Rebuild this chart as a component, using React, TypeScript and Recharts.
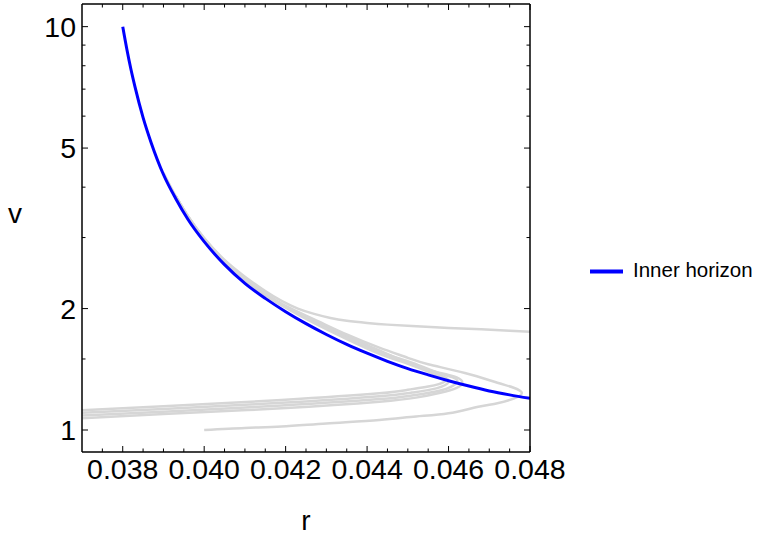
import React from "react";
import { LineChart, Line, XAxis, YAxis, Legend } from "recharts";

const FONT = "'Liberation Sans', Arial, sans-serif";

// tick values
const xMajorTicks = [0.038, 0.04, 0.042, 0.044, 0.046, 0.048];
const xMinorTicks = [
  0.0375, 0.0385, 0.039, 0.0395, 0.0405, 0.041, 0.0415, 0.0425, 0.043, 0.0435,
  0.0445, 0.045, 0.0455, 0.0465, 0.047, 0.0475,
];
const yMajorTicks = [1, 2, 5, 10];
const yMinorTicks = [1.5, 3, 4, 6, 7, 8, 9];

// inner horizon (blue)
const innerR = [
  0.038, 0.0381, 0.0382, 0.0383, 0.0385, 0.0387, 0.039, 0.0393, 0.0396, 0.04,
  0.0405, 0.041, 0.0415, 0.042, 0.0425, 0.043, 0.0435, 0.044, 0.0445, 0.045,
  0.0455, 0.046, 0.0465, 0.047, 0.0475, 0.048,
];
const innerV = [
  10.0, 8.8, 7.85, 7.1, 5.95, 5.15, 4.3, 3.75, 3.33, 2.93, 2.57, 2.31, 2.12,
  1.965, 1.835, 1.725, 1.63, 1.55, 1.48, 1.42, 1.37, 1.325, 1.285, 1.25, 1.222,
  1.198,
];

// gray trajectories
const grayAR = [
  0.039, 0.0393, 0.0396, 0.04, 0.0405, 0.041, 0.0415, 0.0419, 0.0423, 0.0427,
  0.0431, 0.0435, 0.044, 0.0445, 0.0451, 0.046, 0.0468, 0.0475, 0.048,
];
const grayAV = [
  4.34, 3.8, 3.39, 2.99, 2.64, 2.4, 2.21, 2.09, 2.0, 1.94, 1.895, 1.866, 1.843,
  1.825, 1.81, 1.79, 1.777, 1.763, 1.753,
];

const grayB1R = [
  0.037, 0.039, 0.0419, 0.0443, 0.045, 0.0455, 0.0459, 0.0458, 0.0455, 0.045,
  0.0443, 0.0435, 0.0427, 0.042, 0.0415, 0.041, 0.0405, 0.04, 0.0396, 0.0393,
];
const grayB1V = [
  1.12, 1.145, 1.187, 1.233, 1.258, 1.282, 1.318, 1.35, 1.395, 1.46, 1.545,
  1.68, 1.84, 2.01, 2.16, 2.35, 2.61, 2.97, 3.38, 3.8,
];

const grayB2R = [
  0.037, 0.039, 0.0419, 0.0443, 0.0451, 0.0457, 0.046, 0.0459, 0.0456, 0.045,
  0.0443, 0.0435, 0.0427, 0.042, 0.0415, 0.041, 0.0405, 0.04, 0.0396, 0.0393,
];
const grayB2V = [
  1.103, 1.128, 1.168, 1.213, 1.238, 1.268, 1.315, 1.352, 1.392, 1.468, 1.555,
  1.69, 1.85, 2.015, 2.165, 2.355, 2.61, 2.97, 3.38, 3.8,
];

const grayB3R = [
  0.037, 0.039, 0.0419, 0.0443, 0.0451, 0.0458, 0.0462, 0.0461, 0.0457, 0.0451,
  0.0443, 0.0435, 0.0427, 0.042, 0.0415, 0.041, 0.0405, 0.04, 0.0396, 0.0393,
];
const grayB3V = [
  1.087, 1.11, 1.15, 1.193, 1.218, 1.253, 1.31, 1.35, 1.392, 1.468, 1.565,
  1.7, 1.86, 2.02, 2.17, 2.36, 2.615, 2.975, 3.385, 3.8,
];

const grayB4R = [
  0.037, 0.039, 0.0419, 0.0443, 0.0452, 0.0458, 0.0462, 0.04634, 0.0462,
  0.0458, 0.0452, 0.0443, 0.0435, 0.0427, 0.042, 0.0415, 0.041, 0.0405, 0.04,
  0.0396, 0.0393,
];
const grayB4V = [
  1.07, 1.095, 1.132, 1.175, 1.203, 1.237, 1.272, 1.31, 1.35, 1.385, 1.44,
  1.575, 1.71, 1.87, 2.025, 2.175, 2.365, 2.62, 2.98, 3.39, 3.8,
];

const grayCR = [
  0.04, 0.041, 0.0419, 0.043, 0.0443, 0.0452, 0.046, 0.0467, 0.0472, 0.0476,
  0.0478, 0.0476, 0.0472, 0.0464, 0.0455, 0.045, 0.0443, 0.0435, 0.0427, 0.042,
  0.0415, 0.041, 0.0405, 0.04, 0.0396, 0.0393,
];
const grayCV = [
  1.0, 1.012, 1.02, 1.038, 1.059, 1.08, 1.1, 1.14, 1.165, 1.197, 1.235, 1.273,
  1.31, 1.385, 1.455, 1.51, 1.6, 1.725, 1.88, 2.03, 2.18, 2.37, 2.625, 2.985,
  3.39, 3.8,
];

const toPoints = (rs: number[], vs: number[]) => rs.map((r, i) => ({ r, v: vs[i] }));

const innerData = toPoints(innerR, innerV);
const grayData = [
  toPoints(grayAR, grayAV),
  toPoints(grayB1R, grayB1V),
  toPoints(grayB2R, grayB2V),
  toPoints(grayB3R, grayB3V),
  toPoints(grayB4R, grayB4V),
  toPoints(grayCR, grayCV),
];

const xTicks = [...xMajorTicks, ...xMinorTicks].sort((a, b) => a - b);
const yTicks = [...yMajorTicks, ...yMinorTicks].sort((a, b) => a - b);

const isMajor = (list: number[], v: number) => list.some((t) => Math.abs(t - v) < 1e-9);

const MAJOR = 6;
const MINOR = 3.5;
const TICK_FONT = 28.5;

function BottomTick(props: any) {
  const { x, y, payload } = props;
  const major = isMajor(xMajorTicks, payload.value);
  return (
    <g>
      <line x1={x} x2={x} y1={y} y2={y - (major ? MAJOR : MINOR)} stroke="#000" strokeWidth={1} />
      {major && (
        <text x={x} y={y + 27} textAnchor="middle" fontSize={TICK_FONT} fontFamily={FONT} fill="#000">
          {payload.value.toFixed(3)}
        </text>
      )}
    </g>
  );
}

function TopTick(props: any) {
  const { x, y, payload } = props;
  const major = isMajor(xMajorTicks, payload.value);
  return <line x1={x} x2={x} y1={y} y2={y + (major ? MAJOR : MINOR)} stroke="#000" strokeWidth={1} />;
}

function LeftTick(props: any) {
  const { x, y, payload } = props;
  const major = isMajor(yMajorTicks, payload.value);
  return (
    <g>
      <line x1={x} x2={x + (major ? MAJOR : MINOR)} y1={y} y2={y} stroke="#000" strokeWidth={1} />
      {major && (
        <text x={x - 6} y={y + 10} textAnchor="end" fontSize={TICK_FONT} fontFamily={FONT} fill="#000">
          {payload.value}
        </text>
      )}
    </g>
  );
}

function RightTick(props: any) {
  const { x, y, payload } = props;
  const major = isMajor(yMajorTicks, payload.value);
  return <line x1={x} x2={x - (major ? MAJOR : MINOR)} y1={y} y2={y} stroke="#000" strokeWidth={1} />;
}

const frame = { stroke: "#000", strokeWidth: 1.5 };

export default function App() {
  return (
    <div style={{ position: "absolute", left: 0, top: 0, fontFamily: FONT }}>
      <LineChart width={764} height={541} margin={{ top: 3, right: 233, bottom: 0, left: 0 }}>
        <XAxis
          xAxisId="b"
          dataKey="r"
          type="number"
          domain={[0.037, 0.048]}
          allowDataOverflow
          ticks={xTicks}
          interval={0}
          tickSize={0}
          tickMargin={0}
          tickLine={false}
          tick={<BottomTick />}
          height={89}
          axisLine={frame}
          label={{ value: "r", position: "insideBottom", offset: 11, fontSize: 28, fill: "#000" }}
        />
        <XAxis
          xAxisId="t"
          orientation="top"
          dataKey="r"
          type="number"
          domain={[0.037, 0.048]}
          allowDataOverflow
          ticks={xTicks}
          interval={0}
          tickSize={0}
          tickMargin={0}
          tickLine={false}
          tick={<TopTick />}
          height={1}
          axisLine={frame}
        />
        <YAxis
          yAxisId="l"
          type="number"
          scale="log"
          domain={[0.882, 11.38]}
          allowDataOverflow
          ticks={yTicks}
          interval={0}
          tickSize={0}
          tickMargin={0}
          tickLine={false}
          tick={<LeftTick />}
          width={82}
          axisLine={frame}
          label={{ value: "v", position: "insideLeft", offset: 8, dy: -15, fontSize: 28, fill: "#000" }}
        />
        <YAxis
          yAxisId="rt"
          orientation="right"
          type="number"
          scale="log"
          domain={[0.882, 11.38]}
          allowDataOverflow
          ticks={yTicks}
          interval={0}
          tickSize={0}
          tickMargin={0}
          tickLine={false}
          tick={<RightTick />}
          width={1}
          axisLine={frame}
        />
        {grayData.map((d, i) => (
          <Line
            key={i}
            xAxisId="b"
            yAxisId="l"
            data={d}
            dataKey="v"
            type="natural"
            stroke="#d6d6d6"
            strokeWidth={2.5}
            dot={false}
            activeDot={false}
            legendType="none"
            isAnimationActive={false}
          />
        ))}
        <Line
          xAxisId="b"
          yAxisId="l"
          data={innerData}
          dataKey="v"
          name="Inner horizon"
          type="monotone"
          stroke="#0000ff"
          strokeWidth={3}
          dot={false}
          activeDot={false}
          isAnimationActive={false}
        />
        <Legend
          layout="vertical"
          align="center"
          verticalAlign="middle"
          iconType="plainline"
          iconSize={33}
          wrapperStyle={{ left: 590, top: 255, width: "auto", fontSize: 20.5 }}
          formatter={(value: string) => <span style={{ color: "#000", marginLeft: 6 }}>{value}</span>}
        />
      </LineChart>
    </div>
  );
}
